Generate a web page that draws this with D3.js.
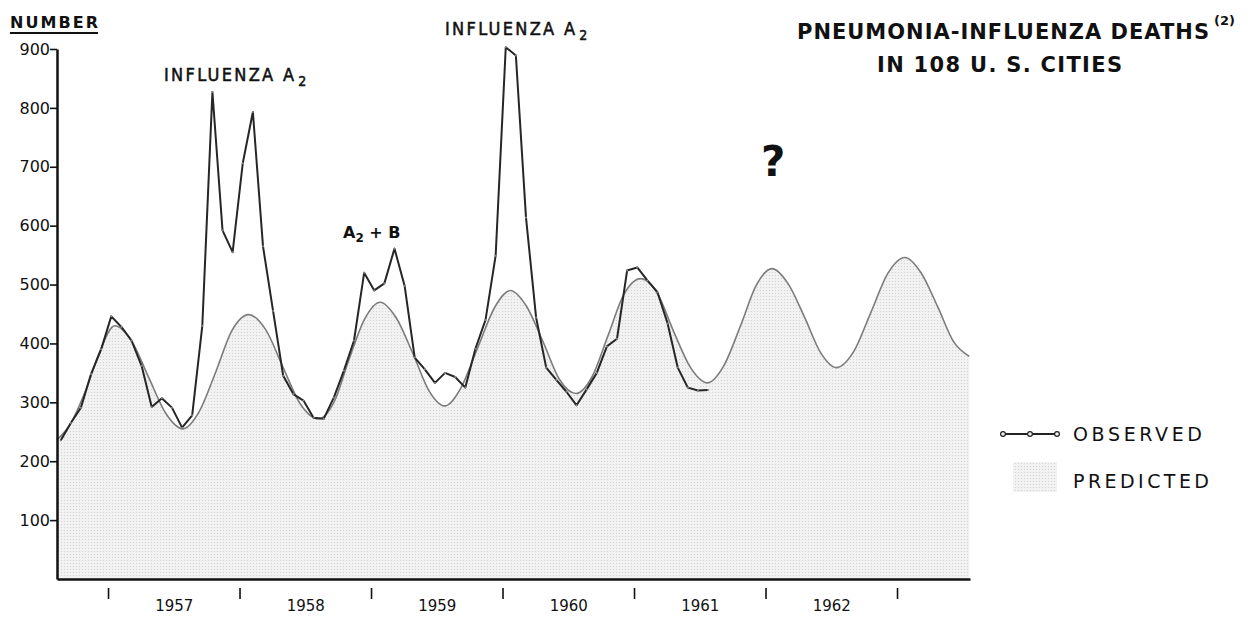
<!DOCTYPE html>
<html>
<head>
<meta charset="utf-8">
<script src="https://cdn.jsdelivr.net/npm/d3@7"></script>
<style>
	body { margin: 0; background: #fff; }
	svg { display: block; }
	text { font-family: "DejaVu Sans", sans-serif; fill: #111; }
	.cond { font-family: "DejaVu Sans Condensed", "DejaVu Sans", sans-serif; font-stretch: condensed; }
</style>
</head>
<body>
<svg id="chart"></svg>
<script>
// year labels (centred mid-year) and year boundary ticks
var yearLabels = [1957, 1958, 1959, 1960, 1961, 1962];
var yearTicks = [1957, 1958, 1959, 1960, 1961, 1962, 1963];
var yTicks = [100, 200, 300, 400, 500, 600, 700, 800, 900];

// observed deaths, one value per 4-week period starting late Aug 1956
var obsStart = 1956.64;
var observed = [235, 265, 291, 348, 390, 446, 428, 405, 362, 292, 307, 291, 257,
	278, 430, 827, 592, 555, 706, 793, 565, 455, 345, 314, 303, 274,
	272, 308, 354, 405, 520, 490, 502, 561, 498, 376, 356, 333, 350,
	343, 325, 391, 440, 549, 903, 889, 614, 444, 359, 338, 318, 295,
	322, 350, 395, 408, 524, 529, 507, 487, 434, 359, 325, 320, 321];

// predicted (expected) deaths
var predYear = [1956.61, 1956.71, 1956.83, 1956.94, 1957.05, 1957.18, 1957.31, 1957.44, 1957.57,
	1957.69, 1957.82, 1957.94, 1958.07, 1958.20, 1958.33, 1958.46, 1958.60, 1958.72, 1958.83,
	1958.95, 1959.07, 1959.19, 1959.32, 1959.44, 1959.56, 1959.68, 1959.81, 1959.94, 1960.06,
	1960.18, 1960.31, 1960.43, 1960.56, 1960.68, 1960.80, 1960.92, 1961.05, 1961.18, 1961.30,
	1961.43, 1961.56, 1961.68, 1961.81, 1961.93, 1962.05, 1962.17, 1962.30, 1962.42, 1962.54,
	1962.67, 1962.80, 1962.93, 1963.06, 1963.18, 1963.31, 1963.43, 1963.55];
var predDeaths = [236, 262, 320, 388, 430, 404, 342, 281, 255,
	283, 352, 421, 449, 423, 360, 298, 272, 301, 371,
	441, 470, 444, 382, 320, 294, 323, 392, 461, 490,
	464, 402, 340, 315, 343, 412, 482, 510, 484, 421,
	359, 333, 361, 430, 499, 527, 502, 443, 384, 359,
	386, 452, 519, 546, 521, 462, 403, 378];

var obsData = observed.map(function(v, i) { return {t: obsStart + i / 13, v: v}; });
var predData = predDeaths.map(function(v, i) { return {t: predYear[i], v: v}; });

var W = 1252, H = 617,
	margin = {top: 49, right: 282, bottom: 38, left: 57},
	width = W - margin.left - margin.right,
	height = H - margin.top - margin.bottom;

var root = d3.select("#chart").attr("width", W).attr("height", H);

// stipple pattern for the predicted area
var pat = root.append("defs").append("pattern")
	.attr("id", "stipple")
	.attr("width", 3).attr("height", 3)
	.attr("patternUnits", "userSpaceOnUse");
pat.append("rect").attr("width", 3).attr("height", 3).attr("fill", "#f2f2f2");
pat.append("circle").attr("cx", 1.5).attr("cy", 1.5).attr("r", 0.6).attr("fill", "#cfcfcf");

var svg = root.append("g")
	.attr("transform", "translate(" + margin.left + "," + margin.top + ")");

var x = d3.scaleLinear().domain([1956.612, 1963.555]).range([0, width]),
	y = d3.scaleLinear().domain([0, 900]).range([height, 0]);

// predicted area + line
svg.append("path")
	.datum(predData)
	.attr("fill", "url(#stipple)")
	.attr("d", d3.area()
		.curve(d3.curveMonotoneX)
		.x(function(d) { return x(d.t); })
		.y0(y(0))
		.y1(function(d) { return y(d.v); }));

svg.append("path")
	.datum(predData)
	.attr("fill", "none")
	.attr("stroke", "#7c7c7c")
	.attr("stroke-width", 1.6)
	.attr("d", d3.line()
		.curve(d3.curveMonotoneX)
		.x(function(d) { return x(d.t); })
		.y(function(d) { return y(d.v); }));

// observed line
svg.append("path")
	.datum(obsData)
	.attr("fill", "none")
	.attr("stroke", "#262626")
	.attr("stroke-width", 2)
	.attr("stroke-linejoin", "round")
	.attr("d", d3.line()
		.x(function(d) { return x(d.t); })
		.y(function(d) { return y(d.v); }));

svg.selectAll(".pt")
	.data(obsData)
	.enter().append("circle")
	.attr("class", "pt")
	.attr("cx", function(d) { return x(d.t); })
	.attr("cy", function(d) { return y(d.v); })
	.attr("r", 1)
	.attr("fill", "#888")
	.attr("stroke", "none");

// y axis
var yAxis = svg.append("g")
	.call(d3.axisLeft(y).tickValues(yTicks).tickSize(7).tickSizeOuter(0).tickPadding(0));
yAxis.select(".domain").attr("stroke", "#111").attr("stroke-width", 2.5);
yAxis.selectAll(".tick line").attr("stroke", "#111").attr("stroke-width", 1.6);
yAxis.selectAll(".tick text")
	.style("font-family", "'DejaVu Sans', sans-serif")
	.style("font-size", "16px")
	.attr("fill", "#111");

// x axis line
var xAxis = svg.append("g")
	.attr("transform", "translate(0," + height + ")")
	.call(d3.axisBottom(x).tickValues([]).tickSizeOuter(0));
xAxis.select(".domain").attr("stroke", "#111").attr("stroke-width", 2.5);

// year boundary marks, detached below the axis
var xMarks = svg.append("g")
	.attr("transform", "translate(0," + (height + 9) + ")")
	.call(d3.axisBottom(x).tickValues(yearTicks).tickSize(11).tickFormat(""));
xMarks.select(".domain").remove();
xMarks.selectAll(".tick line").attr("stroke", "#111").attr("stroke-width", 1.6);

// year labels, mid-year
var xLabels = svg.append("g")
	.attr("transform", "translate(0," + (height + 18) + ")")
	.call(d3.axisBottom(x)
		.tickValues(yearLabels.map(function(d) { return d + 0.5; }))
		.tickSize(0)
		.tickFormat(function(d) { return Math.floor(d); }));
xLabels.select(".domain").remove();
xLabels.selectAll(".tick text")
	.style("font-family", "'DejaVu Sans', sans-serif")
	.style("font-size", "15px")
	.attr("fill", "#111");

// axis title
root.append("text")
	.attr("x", 10).attr("y", 28)
	.attr("textLength", 88)
	.style("font-size", "16px").style("font-weight", "bold")
	.text("NUMBER");
root.append("line")
	.attr("x1", 10).attr("x2", 98).attr("y1", 33).attr("y2", 33)
	.attr("stroke", "#111").attr("stroke-width", 1.8);

// title
root.append("text")
	.attr("x", 797).attr("y", 39)
	.attr("textLength", 412)
	.style("font-size", "21px").style("font-weight", "bold")
	.text("PNEUMONIA-INFLUENZA DEATHS");
root.append("text")
	.attr("x", 1214).attr("y", 25)
	.style("font-size", "13px").style("font-weight", "bold")
	.text("(2)");
root.append("text")
	.attr("x", 877).attr("y", 72)
	.attr("textLength", 245)
	.style("font-size", "21px").style("font-weight", "bold")
	.text("IN 108 U. S. CITIES");

// annotations
function fluLabel(px, py) {
	var t = root.append("text").attr("class", "cond")
		.attr("x", px).attr("y", py)
		.attr("stroke", "#111").attr("stroke-width", 0.5)
		.style("font-size", "18px");
	t.append("tspan").attr("textLength", 130).text("INFLUENZA A");
	t.append("tspan").attr("dx", 2).attr("dy", 5).style("font-size", "14px").text("2");
}
fluLabel(164, 81);
fluLabel(445, 35);

var ab = root.append("text")
	.attr("x", 343).attr("y", 238)
	.style("font-size", "16px").style("font-weight", "bold");
ab.append("tspan").text("A");
ab.append("tspan").attr("dy", 4).style("font-size", "12px").text("2");
ab.append("tspan").attr("dy", -4).text(" + B");

root.append("text")
	.attr("x", 761).attr("y", 176)
	.style("font-size", "42px").style("font-weight", "bold")
	.text("?");

// legend
var lg = root.append("g");
lg.append("line")
	.attr("x1", 1003).attr("x2", 1057).attr("y1", 434).attr("y2", 434)
	.attr("stroke", "#222").attr("stroke-width", 2);
lg.selectAll("circle")
	.data([1003, 1030, 1057])
	.enter().append("circle")
	.attr("cx", function(d) { return d; })
	.attr("cy", 434)
	.attr("r", 2.4)
	.attr("fill", "#eee")
	.attr("stroke", "#222")
	.attr("stroke-width", 1.2);
lg.append("text")
	.attr("x", 1073).attr("y", 441)
	.attr("textLength", 129)
	.style("font-size", "19px")
	.text("OBSERVED");
lg.append("rect")
	.attr("x", 1013).attr("y", 462).attr("width", 44).attr("height", 30)
	.attr("fill", "url(#stipple)");
lg.append("text")
	.attr("x", 1073).attr("y", 488)
	.attr("textLength", 136)
	.style("font-size", "19px")
	.text("PREDICTED");
</script>
</body>
</html>
